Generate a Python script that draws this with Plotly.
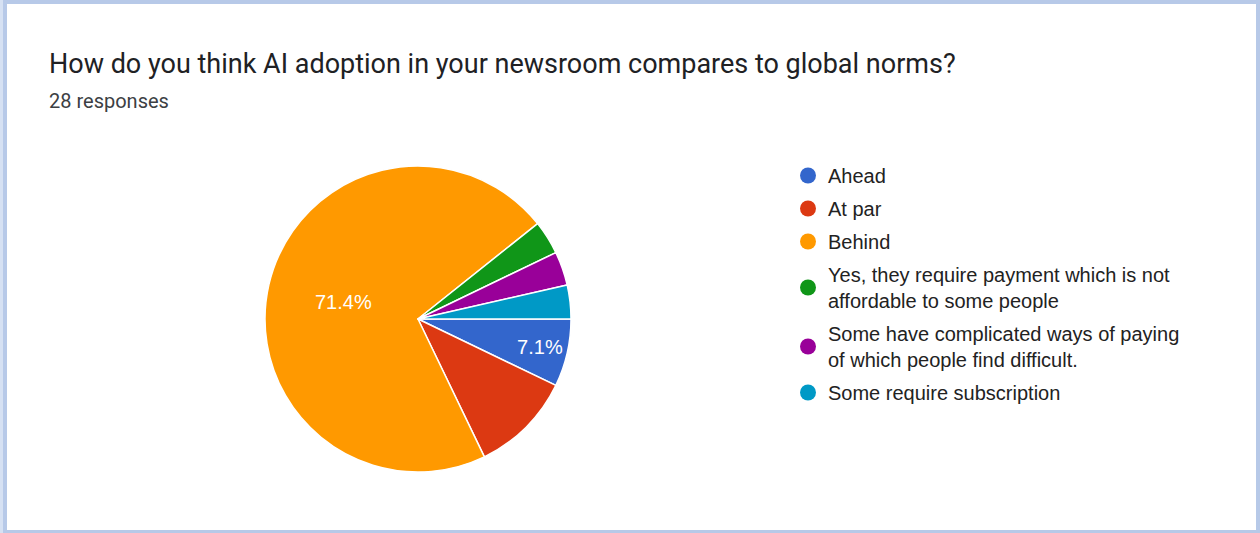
import plotly.graph_objects as go

# Survey answers and response counts (28 responses in total)
labels = [
    "Ahead",
    "At par",
    "Behind",
    "Yes, they require payment which is not<br>affordable to some people",
    "Some have complicated ways of paying<br>of which people find difficult.",
    "Some require subscription",
]
counts = [2, 3, 20, 1, 1, 1]
colors = ["#3366cc", "#dc3912", "#ff9900", "#109618", "#990099", "#0099c6"]
# Only the two larger wedges carry a percentage label
show_pct = [True, False, True, False, False, False]

title_text = "How do you think AI adoption in your newsroom compares to global norms?"
subtitle_text = "28 responses"

W, H = 1260, 533

fig = go.Figure()

fig.add_trace(go.Pie(
    labels=labels,
    values=counts,
    marker=dict(colors=colors, line=dict(color="white", width=1.5)),
    sort=False,
    direction="clockwise",
    rotation=90,
    texttemplate=["%{percent:.1%}" if s else "" for s in show_pct],
    textposition="inside",
    insidetextorientation="horizontal",
    textfont=dict(family="Liberation Sans, Arial, sans-serif", size=20, color="white"),
    hoverinfo="label+value+percent",
    showlegend=False,
    domain=dict(x=[265 / W, 571 / W], y=[1 - 472 / H, 1 - 166 / H]),
))

# Circle-marker legend entries, one per answer
for i, (lab, col) in enumerate(zip(labels, colors)):
    fig.add_trace(go.Scatter(
        x=[None], y=[None], mode="markers",
        marker=dict(symbol="circle", size=20, color=col),
        name=lab, legendgroup=f"g{i}", showlegend=True, hoverinfo="skip",
    ))

# Light blue frame around the card
frame = "#b7c9e8"
shapes = [
    dict(type="rect", xref="paper", yref="paper", x0=0, x1=1, y0=1 - 4 / H, y1=1,
         fillcolor=frame, line_width=0, layer="above"),
    dict(type="rect", xref="paper", yref="paper", x0=0, x1=1, y0=0, y1=3 / H,
         fillcolor=frame, line_width=0, layer="above"),
    dict(type="rect", xref="paper", yref="paper", x0=0, x1=7 / W, y0=0, y1=1,
         fillcolor=frame, line_width=0, layer="above"),
    dict(type="rect", xref="paper", yref="paper", x0=0, x1=3 / W, y0=0, y1=1,
         fillcolor="#d6e1f3", line_width=0, layer="above"),
    dict(type="rect", xref="paper", yref="paper", x0=1 - 4 / W, x1=1, y0=0, y1=1,
         fillcolor=frame, line_width=0, layer="above"),
]

fig.update_layout(
    width=W, height=H,
    margin=dict(l=0, r=0, t=0, b=0),
    paper_bgcolor="white",
    plot_bgcolor="white",
    xaxis=dict(visible=False),
    yaxis=dict(visible=False),
    title=dict(
        text=title_text,
        x=49 / W, xanchor="left", xref="paper",
        y=1 - 54 / H, yanchor="top", yref="paper",
        font=dict(family="Roboto, sans-serif", size=27, color="#202124"),
    ),
    annotations=[dict(
        text=subtitle_text, xref="paper", yref="paper",
        x=47 / W, xanchor="left", y=1 - 87 / H, yanchor="top",
        showarrow=False,
        font=dict(family="Roboto, sans-serif", size=20, color="#3c4043"),
    )],
    legend=dict(
        x=788 / W, xanchor="left",
        y=1 - 156 / H, yanchor="top",
        traceorder="grouped", tracegroupgap=4,
        itemsizing="trace",
        font=dict(family="Liberation Sans, Arial, sans-serif", size=20, color="#222222"),
        bgcolor="rgba(0,0,0,0)",
    ),
    shapes=shapes,
)

fig.write_html("out.html")
